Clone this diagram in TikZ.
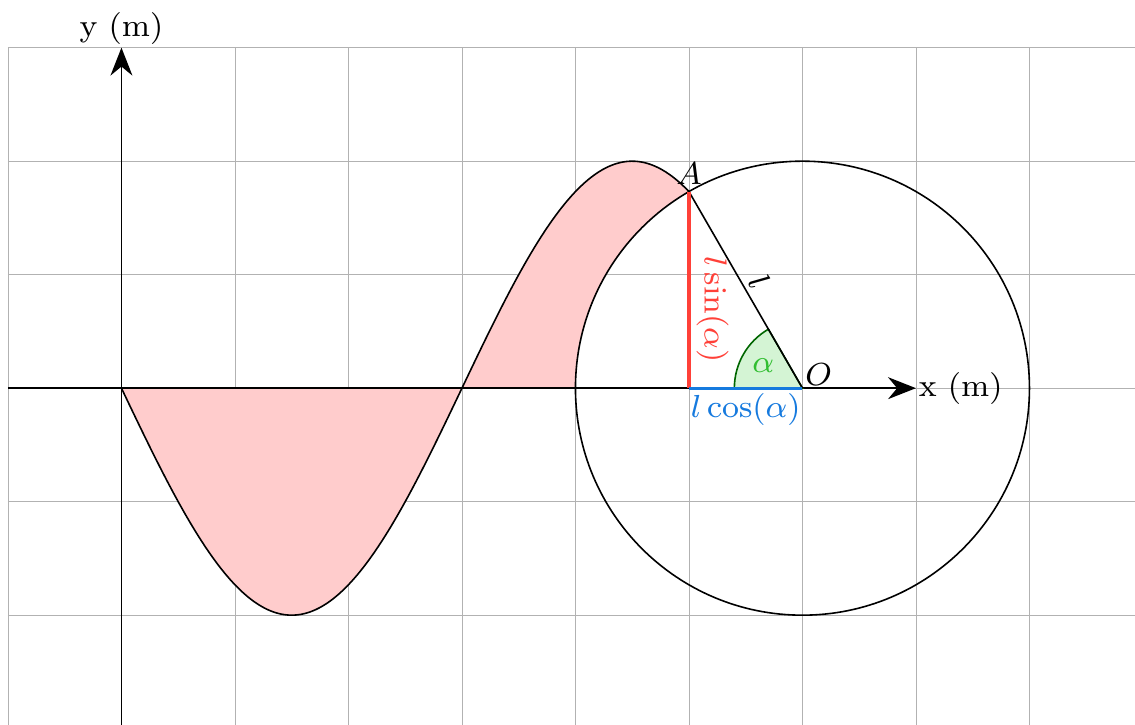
\documentclass[tikz,border=0pt]{standalone}
\usetikzlibrary{arrows.meta}
\definecolor{sinred}{RGB}{255,64,56}
\definecolor{cosblue}{RGB}{22,122,222}
\definecolor{anglegreen}{RGB}{50,190,50}
\definecolor{anglefill}{RGB}{212,244,212}
\begin{document}
\begin{tikzpicture}[>={Stealth[length=7pt,width=5.5pt]}, every node/.style={font=\footnotesize}]
    \clip (-1.07,-2.96) rectangle (8.93,3.42);

    % Grid
    \draw[gray!60, very thin] (-1,-3) grid (9,3);

    % Points
    \coordinate (O) at (6,0);
    \coordinate (A) at (5,{sqrt(3)});
    \coordinate (F) at (5,0);

    % Shaded area
    \fill[red!20, domain=0:5, smooth, samples=100] plot (\x, {-2*sin(60*\x)}) arc[start angle=120, end angle=180, radius=2] -- cycle;

    % Sine curve and circle
    \draw[domain=0:5, smooth, samples=100] plot (\x, {-2*sin(60*\x)});
    \draw (O) circle (2);

    % Axes
    \draw[->] (-1,0) -- (7,0) node[right, inner sep=0.5pt] {x (m)};
    \draw[->] (0,-3) -- (0,3) node[above, inner sep=0.5pt] {y (m)};

    % Angle
    \filldraw[fill=anglefill, draw=green!40!black] (O) -- ++(180:0.6) arc[start angle=180, end angle=120, radius=0.6] -- cycle;
    \node[anglegreen] (alpha) at ([shift={(150:0.4)}]O) {$\alpha$};

    % Triangle
    \draw (A) -- (O) node[midway, above, sloped, inner sep=1pt] {$l$};
    \draw[thick, sinred] (A) -- (F) node[pos=0.6, above, sloped, inner sep=1.5pt] {$l\sin(\alpha)$};
    \draw[thick, cosblue] (F) -- (O) node[midway, below, inner sep=1pt] {$l\cos(\alpha)$};

    % Labels
    \node[above, inner sep=1.5pt] (labelA) at (A) {$A$};
    \node[anchor=south west, inner sep=0.5pt] (labelO) at (O) {$O$};
\end{tikzpicture}
\end{document}
